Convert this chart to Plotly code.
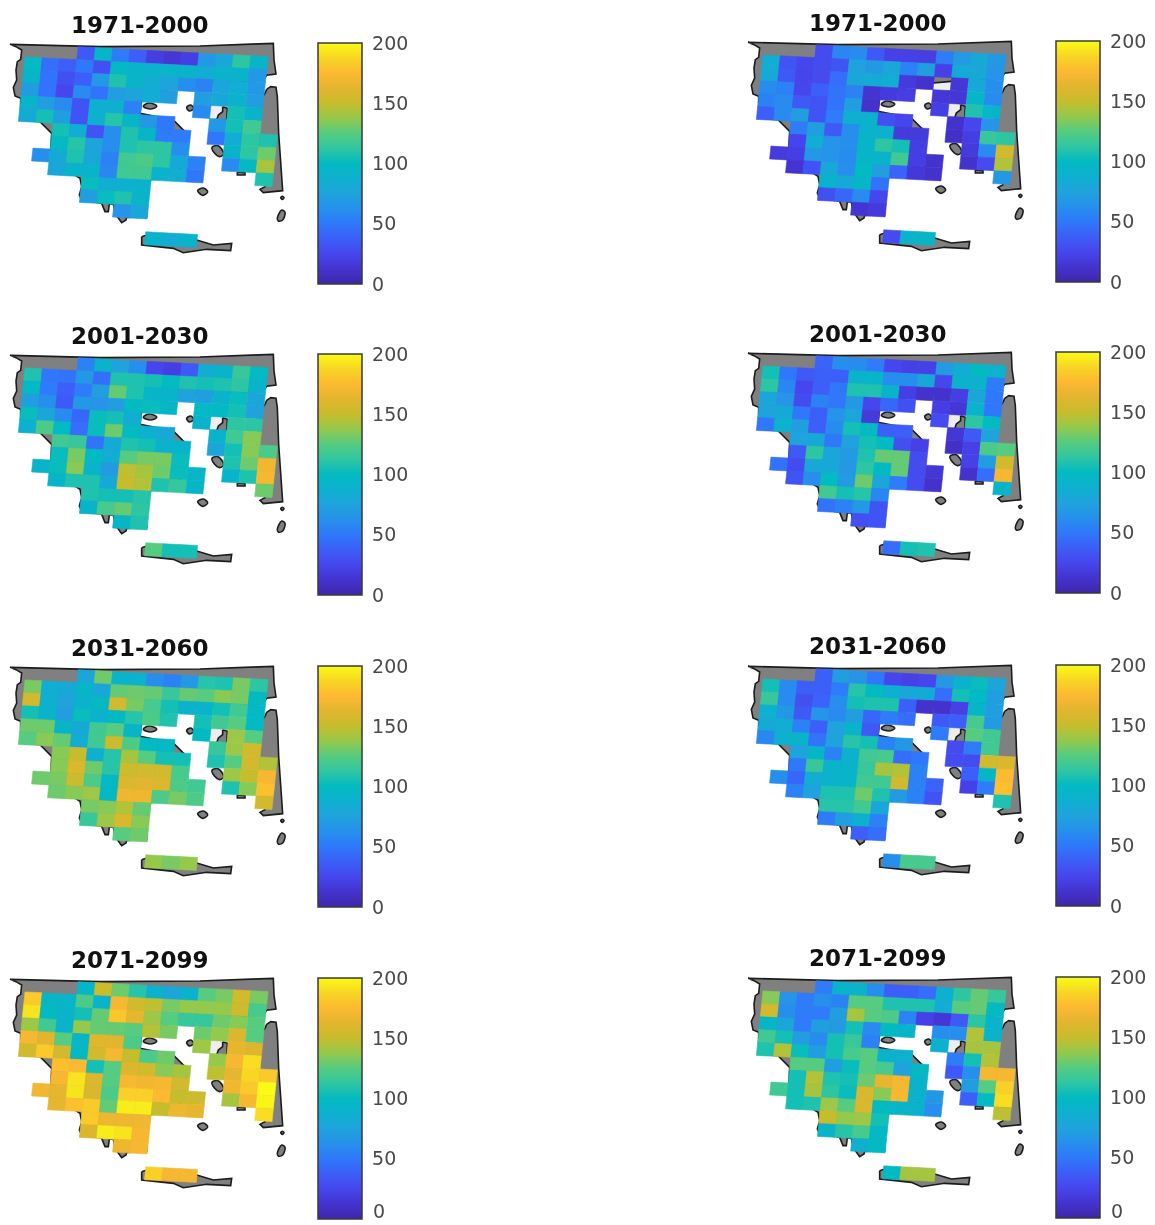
import plotly.graph_objects as go

# ---- grid layout: which columns exist in every row of the model grid
ROW_COLS = [
    list(range(3, 14)),
    list(range(0, 14)),
    list(range(0, 14)),
    list(range(0, 9)) + [10, 11, 12, 13],
    list(range(0, 7)) + [10, 11, 12, 13],
    list(range(0, 9)) + [11, 12, 13],
    list(range(2, 10)) + [11, 12, 13, 14],
    list(range(2, 10)) + [12, 13, 14],
    list(range(1, 11)) + [12, 13, 14],
    list(range(2, 11)) + [14],
    [4, 5, 6, 7],
    [4, 5, 6, 7],
    [6, 7],
    [],
    [8, 9, 10],
]

# ---- values by panel and row (None = no-data cell)
L1 = [
    [35, 95, 52, 38, 20, 15, 20, 68, 80, 112, 95],
    [98, 45, 38, 50, 30, 98, 92, 92, 92, 92, 85, 92, 92, 68],
    [95, 48, 30, 38, 68, 108, 92, 85, 75, 62, 55, 78, 85, 68],
    [70, 48, 25, 60, 48, 72, 75, 85, 72, 72, 80, 90, 72],
    [93, 72, 60, 32, 88, 88, 55, 60, None, 105, 92],
    [82, 105, 72, 32, 88, 110, 95, 68, 50, 68, 105, 118],
    [105, 85, 32, 62, 108, 95, 52, 52, 50, 85, 112, 108],
    [100, 110, 75, 62, 108, 112, 112, 62, 92, 112, 130],
    [62, 82, 108, 78, 55, 118, 122, 112, 82, 55, 60, 98, 142],
    [78, 92, 90, 58, 118, 118, 92, 85, 50, 108],
    [102, 85, 88, 90],
    [72, 102, 108, 92],
    [65, 78],
    [],
    [92, 85, 92],
]
L2 = [
    [55, 90, 75, 62, 25, 20, 35, 85, 92, 115, 100],
    [108, 50, 48, 68, 45, 108, 108, 105, 100, 108, 105, 108, 112, 92],
    [100, 52, 38, 52, 72, 128, 108, 95, 92, 75, 72, 92, 102, 78],
    [72, 62, 35, 68, 65, 72, 100, 102, 95, 100, 98, 105, 75],
    [102, 78, 60, 42, 102, 105, 85, 90, None, 112, 112],
    [88, 122, 100, 45, 102, 130, 100, 88, 80, 92, 118, 135],
    [118, 115, 48, 82, 108, 105, 90, 92, 78, 105, 135, 122],
    [102, 132, 100, 85, 125, 132, 132, 102, 108, 130, 170],
    [92, 102, 135, 92, 70, 148, 142, 130, 102, 95, 92, 108, 172],
    [95, 108, 108, 82, 150, 145, 108, 115, 95, 130],
    [108, 105, 105, 110],
    [92, 120, 128, 112],
    [95, 108],
    [],
    [125, 105, 105],
]
L3 = [
    [78, 130, 92, 90, 62, 55, 68, 110, 108, 132, 112],
    [132, 85, 82, 95, 78, 128, 130, 128, 115, 128, 125, 135, 132, 100],
    [155, 88, 75, 90, 98, 155, 132, 120, 105, 90, 90, 105, 118, 98],
    [105, 92, 72, 102, 90, 100, 110, 122, 108, 105, 118, 125, 100],
    [130, 130, 95, 82, 118, 125, 95, 100, None, 140, 125],
    [125, 135, 128, 85, 118, 152, 122, 100, 98, 115, 140, 155],
    [135, 150, 88, 110, 142, 125, 105, 105, 108, 125, 155, 145],
    [135, 158, 130, 110, 152, 155, 155, 120, 140, 150, 172],
    [130, 132, 152, 122, 98, 158, 162, 160, 122, 118, 108, 135, 178],
    [130, 135, 140, 98, 168, 168, 122, 132, 122, 155],
    [132, 135, 145, 128],
    [115, 140, 158, 135],
    [125, 130],
    [],
    [138, 132, 138],
]
L4 = [
    [95, 152, 130, 110, 90, 78, 90, 125, 132, 155, 132],
    [182, 95, 92, 122, 92, 172, 155, 148, 132, 138, 138, 138, 152, 120],
    [192, 100, 92, 105, 128, 180, 165, 140, 125, 115, 115, 130, 135, 125],
    [140, 118, 92, 138, 128, 128, 125, 145, 132, 130, 138, 160, 125],
    [172, 162, 125, 95, 162, 162, 122, 140, None, 165, 160],
    [155, 182, 155, 98, 155, 172, 150, 122, 130, 138, 172, 190],
    [178, 175, 105, 125, 160, 155, 135, 142, 148, 165, 188, 182],
    [172, 192, 160, 125, 172, 170, 172, 155, 170, 182, 200],
    [170, 165, 192, 158, 122, 185, 185, 175, 150, 152, 142, 172, 198],
    [165, 178, 182, 128, 195, 195, 150, 168, 165, 190],
    [182, 168, 168, 170],
    [160, 195, 192, 172],
    [168, 172],
    [],
    [185, 172, 172],
]
R1 = [
    [28, 58, 60, 35, 22, 22, 20, 52, 70, 80, 68],
    [85, 32, 25, 28, 32, 75, 68, 78, 55, 72, 22, 82, 80, 65],
    [82, 35, 24, 28, 45, 78, 82, 85, 18, 12, None, 15, 82, 62],
    [60, 55, 25, 38, 48, 55, 14, 18, 20, 15, 15, 95, 60],
    [55, 60, 35, 32, 48, 72, 12, 20, None, 108, 95],
    [38, 60, 72, 32, 52, 88, 90, 30, 25, 12, 25, 65],
    [52, 72, 35, 62, 92, 88, 18, 18, 10, 20, 115, 112],
    [24, 85, 65, 62, 95, 112, 105, 20, 18, 60, 155],
    [18, 20, 68, 65, 60, 95, 92, 118, 20, 12, 12, 28, 145],
    [14, 32, 80, 62, 100, 72, 40, 16, 12, 68],
    [92, 82, 95, 48],
    [30, 42, 60, 25],
    [14, 18],
    [],
    [28, 90, 95],
]
R2 = [
    [40, 62, 60, 52, 25, 22, 22, 70, 85, 100, 90],
    [105, 50, 35, 38, 38, 92, 92, 62, 62, 80, 25, 90, 90, 52],
    [112, 58, 25, 38, 50, 108, 108, 92, 20, 12, 12, 20, 78, 50],
    [78, 65, 28, 55, 50, 68, 25, 42, 30, 20, 15, 90, 50],
    [75, 80, 50, 38, 65, 78, 18, 28, None, 112, 100],
    [50, 90, 72, 38, 60, 105, 100, 38, 38, 15, 35, 75],
    [75, 80, 50, 75, 105, 100, 30, 22, 10, 22, 122, 125],
    [35, 112, 78, 70, 108, 128, 128, 28, 22, 72, 155],
    [48, 28, 80, 80, 68, 112, 100, 128, 28, 15, 12, 45, 172],
    [32, 62, 100, 70, 130, 78, 52, 28, 12, 92],
    [118, 105, 110, 58],
    [48, 55, 68, 32],
    [30, 32],
    [],
    [45, 105, 108],
]
R3 = [
    [38, 72, 65, 50, 25, 22, 25, 68, 90, 102, 78],
    [105, 60, 38, 38, 52, 110, 100, 88, 80, 82, 45, 105, 100, 72],
    [115, 60, 30, 40, 62, 105, 108, 108, 38, 12, 12, 22, 95, 72],
    [88, 68, 35, 65, 60, 72, 42, 52, 45, 35, 38, 120, 70],
    [82, 85, 55, 38, 75, 92, 35, 52, None, 125, 118],
    [58, 88, 92, 48, 75, 110, 105, 55, 68, 28, 52, 118],
    [75, 95, 55, 90, 118, 120, 45, 50, 28, 28, 155, 158],
    [50, 115, 90, 92, 115, 142, 145, 55, 38, 95, 175],
    [62, 42, 85, 90, 92, 118, 118, 155, 55, 40, 22, 52, 178],
    [55, 75, 108, 108, 130, 108, 70, 55, 32, 108],
    [110, 110, 118, 78],
    [52, 72, 88, 55],
    [38, 45],
    [],
    [62, 120, 120],
]
R4 = [
    [52, 92, 90, 62, 38, 38, 45, 88, 112, 128, 115],
    [135, 65, 52, 62, 55, 125, 125, 108, 108, 108, 85, 125, 128, 100],
    [155, 62, 52, 52, 72, 142, 125, 122, 55, 22, 15, 35, 112, 92],
    [95, 78, 52, 72, 70, 105, 60, 100, 92, 62, 62, 145, 92],
    [118, 105, 72, 60, 105, 115, 55, 88, None, 142, 142],
    [108, 145, 102, 72, 105, 120, 125, 90, 88, 52, 105, 145],
    [125, 125, 72, 102, 125, 120, 75, 98, 35, 62, 172, 172],
    [105, 145, 108, 105, 130, 165, 172, 92, 72, 125, 185],
    [118, 105, 142, 112, 102, 158, 135, 172, 90, 68, 38, 100, 190],
    [105, 108, 140, 125, 158, 100, 95, 90, 62, 148],
    [150, 138, 140, 105],
    [92, 110, 120, 98],
    [88, 100],
    [],
    [100, 142, 142],
]

TITLES = ["1971-2000", "2001-2030", "2031-2060", "2071-2099"]
TICK_VALUES = [0, 50, 100, 150, 200]

# ---- coastlines in map units
COASTS = [
    [(30,133),(300,140),(600,138),(820,130),(822,180),(828,222),(800,226),(790,240),(640,250),(525,260),
     (425,300),(420,340),(520,360),(560,400),(555,500),(450,540),(440,610),(440,650),(380,652),(378,660),
     (365,668),(355,655),(345,640),(340,612),(328,612),(325,635),(315,635),(305,610),(245,600),(238,585),
     (245,560),(240,535),(225,525),(150,490),(155,400),(120,365),(62,360),(62,295),(45,288),(40,262),
     (50,240),(48,210),(52,185),(62,178),(65,150),(48,140),(30,133)],
    [(800,268),(812,260),(828,262),(832,290),(836,400),(848,572),(790,578),(780,568),(795,560),(790,500),
     (770,400),(780,300),(795,280),(800,268)],
    [(668,320),(682,325),(680,360),(650,360),(655,345),(668,335),(668,320)],
    [(712,516),(735,518),(735,525),(712,525),(712,516)],
    [(425,710),(440,705),(590,720),(640,735),(695,730),(692,752),(620,748),(550,758),(520,745),(425,735),(425,710)],
]
ISLANDS = [
    [(430,318),(447,309),(470,318),(462,325),(440,325),(430,318)],
    [(560,322),(572,315),(581,326),(568,333),(560,322)],
    [(636,442),(655,437),(671,462),(658,470),(644,460),(636,442)],
    [(593,572),(610,564),(623,576),(608,586),(593,572)],
    [(842,593),(847,589),(852,593),(847,598),(842,593)],
    [(832,655),(845,630),(855,637),(848,660),(835,663),(832,655)],
]

PARULA = [
    (0, "#3e26a8"), (12.5, "#4433cf"), (25, "#4646ee"), (37.5, "#3c5ef8"), (50, "#2f78fb"),
    (62.5, "#2690ec"), (75, "#1fa3dc"), (87.5, "#0db0cf"), (100, "#02bac2"), (112.5, "#2fc6a2"),
    (125, "#55cc80"), (137.5, "#93c94c"), (150, "#c6bd2c"), (162.5, "#e2b52e"), (175, "#fdb932"),
    (187.5, "#f8d624"), (200, "#f9fb15"),
]
NODATA = "#eeeeee"
LAND = "#808080"
COAST = "#1c1c1c"
TICK_FONT = dict(family="DejaVu Sans", size=19, color="#4a4a4a")


def hex_rgb(h):
    return tuple(int(h[i:i + 2], 16) for i in (1, 3, 5))


def color_of(v):
    if v is None:
        return NODATA
    v = max(0, min(200, v))
    for (a, ca), (b, cb) in zip(PARULA, PARULA[1:]):
        if v <= b:
            t = (v - a) / (b - a)
            ra, rb = hex_rgb(ca), hex_rgb(cb)
            return "rgb(%d,%d,%d)" % tuple(round(x + (y - x) * t) for x, y in zip(ra, rb))
    return PARULA[-1][1]


def corner(c, r):
    return 79 + 51.8 * c - 4.0 * r, 132 + 2.7 * c + 38.7 * r


W, H = 1155, 1225
PANEL_W, PANEL_H = 300, 270
UNITS = 3
BAR_LEN = 241
PANELS = [
    (L1, TITLES[0], 0, 43, 25), (L2, TITLES[1], 0, 354, 336), (L3, TITLES[2], 0, 666, 648), (L4, TITLES[3], 0, 978, 960),
    (R1, TITLES[0], 738, 41, 23), (R2, TITLES[1], 738, 352, 334), (R3, TITLES[2], 738, 665, 646), (R4, TITLES[3], 738, 977, 958),
]

fig = go.Figure()
layout = {}
annotations = []


def add_cells(vals, ax, ay, want_nodata):
    for r, cols in enumerate(ROW_COLS):
        for c, v in zip(cols, vals[r]):
            if (v is None) != want_nodata:
                continue
            pts = [corner(c, r), corner(c + 1, r), corner(c + 1, r + 1), corner(c, r + 1), corner(c, r)]
            col = color_of(v)
            fig.add_trace(go.Scatter(x=[p[0] for p in pts], y=[p[1] for p in pts], mode="lines", fill="toself",
                                     fillcolor=col, line=dict(color=col, width=0.6), hoverinfo="skip",
                                     showlegend=False, xaxis=ax, yaxis=ay))


for n, (vals, title, ox, top, ty) in enumerate(PANELS, start=1):
    ax = "x%d" % n
    ay = "y%d" % n
    ptop = top - 33
    layout["xaxis%d" % n] = dict(domain=[ox / W, (ox + PANEL_W) / W], range=[0, PANEL_W * UNITS], visible=False,
                                 anchor=ay, fixedrange=True)
    layout["yaxis%d" % n] = dict(domain=[1 - (ptop + PANEL_H) / H, 1 - ptop / H], range=[30 + PANEL_H * UNITS, 30],
                                 visible=False, anchor=ax, fixedrange=True)
    add_cells(vals, ax, ay, True)
    for poly in COASTS:
        fig.add_trace(go.Scatter(x=[p[0] for p in poly], y=[p[1] for p in poly], mode="lines", fill="toself",
                                 fillcolor=LAND, line=dict(color=COAST, width=1.6), hoverinfo="skip",
                                 showlegend=False, xaxis=ax, yaxis=ay))
    for poly in ISLANDS:
        fig.add_trace(go.Scatter(x=[p[0] for p in poly], y=[p[1] for p in poly], mode="lines", fill="toself",
                                 fillcolor=LAND, line=dict(color=COAST, width=1.6, shape="spline"), hoverinfo="skip",
                                 showlegend=False, xaxis=ax, yaxis=ay))
    add_cells(vals, ax, ay, False)
    fig.add_trace(go.Scatter(x=[None], y=[None], mode="markers", showlegend=False, hoverinfo="skip", xaxis=ax, yaxis=ay,
                             marker=dict(color=[0, 200], cmin=0, cmax=200, showscale=True,
                                         colorscale=[[s / 200, h] for s, h in PARULA],
                                         colorbar=dict(x=(ox + 318) / W, xanchor="left", xpad=0, ypad=0,
                                                       y=1 - top / H, yanchor="top",
                                                       lenmode="pixels", len=BAR_LEN, thicknessmode="pixels", thickness=44,
                                                       outlinecolor="#3a3a3a", outlinewidth=1.5,
                                                       tickmode="array", tickvals=TICK_VALUES,
                                                       ticks="outside", ticklen=6, tickcolor="rgba(0,0,0,0)",
                                                       tickfont=TICK_FONT))))
    annotations.append(dict(text=title, xref="paper", yref="paper", x=(ox + 140) / W, y=1 - ty / H, xanchor="center",
                            yanchor="middle", showarrow=False,
                            font=dict(family="DejaVu Sans", size=23, color="#111111", weight="bold")))
    # the bottom row's 0 label would run off the page, so the colorbar drops it: keep it as text, inside the page
    if top + BAR_LEN + 8 > H:
        annotations.append(dict(text=str(TICK_VALUES[0]), xref="paper", yref="paper", x=(ox + 372) / W,
                                y=0.0015, xanchor="left", yanchor="bottom", showarrow=False,
                                font=TICK_FONT, borderpad=0))

fig.update_layout(width=W, height=H, margin=dict(l=0, r=0, t=0, b=0, autoexpand=False), paper_bgcolor="white",
                  plot_bgcolor="white", showlegend=False, annotations=annotations, **layout)
fig.write_html("out.html", config={"displayModeBar": False},
               post_script="document.body.style.margin='0';document.body.style.overflow='hidden';"
                           "document.querySelector('.js-plotly-plot').style.filter='blur(0.6px)';")
